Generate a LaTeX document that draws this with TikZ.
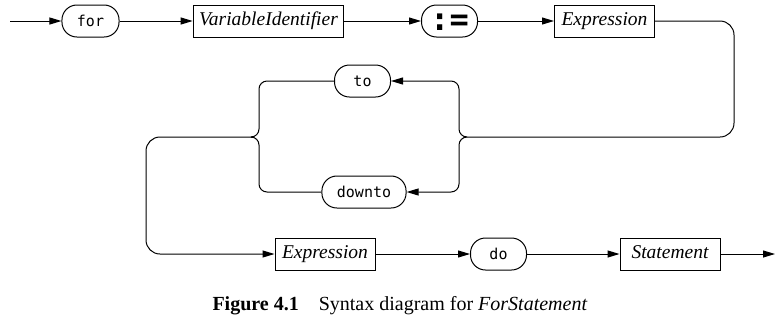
\documentclass[tikz,border=0pt]{standalone}
\usepackage{fontspec}
\setmainfont{Liberation Serif}
\setmonofont{DejaVu Sans Mono}
\usetikzlibrary{arrows.meta}
\tikzset{
  terminal/.style={draw, line width=1pt, rounded corners=15pt, minimum width=56pt,
    minimum height=32pt, inner xsep=15pt,
    font=\ttfamily\fontsize{15}{17}\selectfont, text height=11pt, text depth=1pt},
  nonterminal/.style={draw, line width=1pt, minimum width=100pt, minimum height=32pt,
    inner xsep=6pt, font=\itshape\fontsize{19.5}{22}\selectfont,
    text height=13pt, text depth=4pt},
  conn/.style={line width=1pt},
  flow/.style={conn, -{Triangle[length=12pt,width=7pt]}}
}
\begin{document}
\begin{tikzpicture}[x=1pt,y=-1pt]
  \useasboundingbox (0,0) rectangle (781,333);
  % top row
  \coordinate (start) at (10,21);
  \node[terminal] (for) at (90.5,21) {for};
  \node[nonterminal] (var) at (268.5,21) {VariableIdentifier};
  \node[terminal, font=\ttfamily\bfseries\fontsize{32}{34}\selectfont,
    text height=19pt, text depth=0pt, inner xsep=4pt] (assign) at (449.5,21) {:=};
  \node[nonterminal] (expra) at (604.5,21) {Expression};
  % to / downto choice
  \node[terminal] (to) at (362.5,81) {to};
  \node[terminal] (downto) at (364,192) {downto};
  \coordinate (rturn) at (734,137);
  \coordinate (rj) at (467,137);
  \coordinate (rb) at (459,137);
  \coordinate (lb) at (259,137);
  \coordinate (lj) at (252,137);
  \coordinate (lturn) at (146,254);
  % bottom row
  \node[nonterminal] (exprb) at (325,254) {Expression};
  \node[terminal] (do) at (498.5,254) {do};
  \node[nonterminal] (stmt) at (670,254) {Statement};
  \coordinate (out) at (775,254);
  % connectors
  \draw[flow] (start) -- (for);
  \draw[flow] (for) -- (var);
  \draw[flow] (var) -- (assign);
  \draw[flow] (assign) -- (expra);
  \draw[conn, rounded corners=14pt] (expra.east) -| (rturn) -- (rj);
  \draw[flow, rounded corners=8pt] (rj) -- (rb) |- (to.east);
  \draw[flow, rounded corners=8pt] (rj) -- (rb) |- (downto.east);
  \draw[conn, rounded corners=8pt] (to.west) -| (lb) -- (lj);
  \draw[conn, rounded corners=8pt] (downto.west) -| (lb) -- (lj);
  \draw[flow, rounded corners=14pt] (lj) -| (lturn) -- (exprb.west);
  \draw[flow] (exprb) -- (do);
  \draw[flow] (do) -- (stmt);
  \draw[flow] (stmt) -- (out);
  % caption
  \node[font=\fontsize{20}{24}\selectfont] (caption) at (400,306)
    {\textbf{Figure 4.1}\quad Syntax diagram for \textit{ForStatement}};
\end{tikzpicture}
\end{document}
